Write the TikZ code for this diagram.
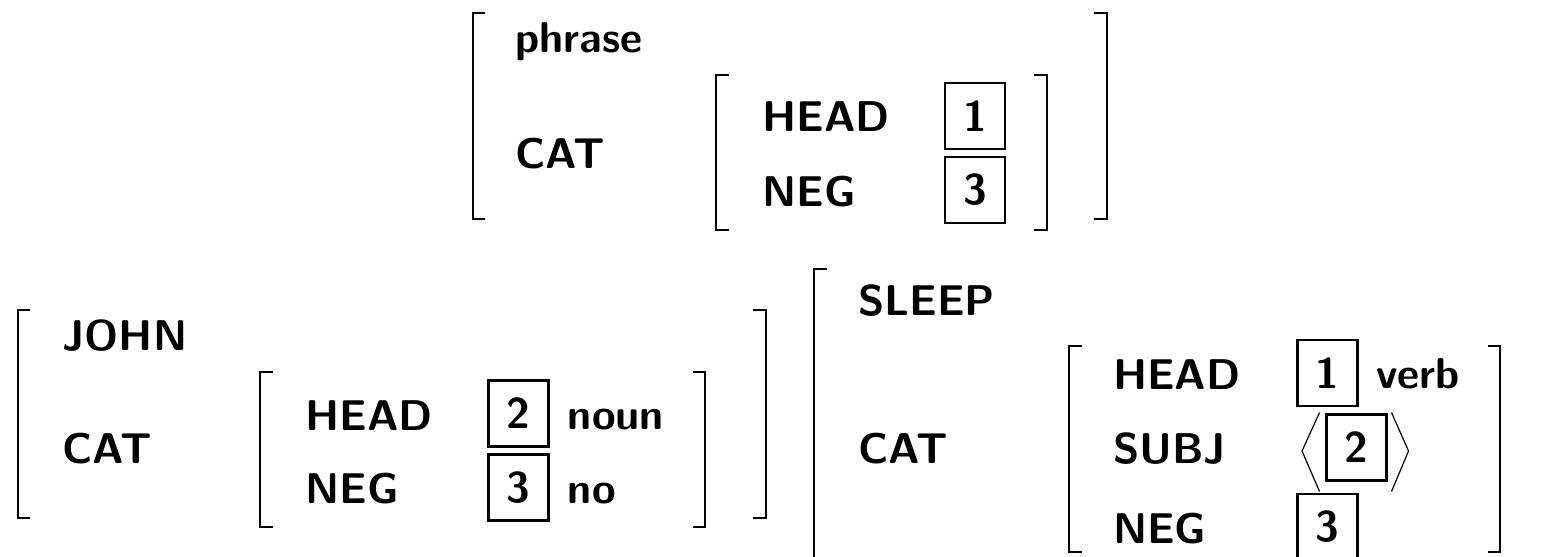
\documentclass[tikz,border=0pt]{standalone}
\usepackage{tikz}
\newcommand{\avmfont}{\sffamily\bfseries\fontsize{21.5}{26}\selectfont}
\tikzset{
  feat/.style={anchor=base west, inner sep=0pt, font=\avmfont},
  tagbox/.style={draw, line width=1.3pt, inner sep=0pt, minimum width=30pt, minimum height=33pt, font=\avmfont},
  brk/.style={line width=1pt},
  ang/.style={line width=0.6pt},
}
\begin{document}
\begin{tikzpicture}[x=0.5pt,y=-0.5pt]
\useasboundingbox (0,0) rectangle (1545,556);
\clip (0,0) rectangle (1545,556);

% ---------- mother: phrase ----------
\draw[brk] (485,13) -- (472.5,13) -- (472.5,219) -- (485,219);
\draw[brk] (1094,13) -- (1107,13) -- (1107,219) -- (1094,219);
\node[feat] (pType) at (515,53) {phrase};
\node[feat] (pCat) at (515,168) {CAT};
\draw[brk] (729,75) -- (716,75) -- (716,230) -- (729,230);
\draw[brk] (1034,75) -- (1046.5,75) -- (1046.5,230) -- (1034,230);
\node[feat] (pHead) at (762,132) {HEAD};
\node[feat] (pNeg) at (762,206) {NEG};
\node[tagbox] (pT1) at (975,116) {1};
\node[tagbox] (pT3) at (975,190) {3};

% ---------- daughter: JOHN ----------
\draw[brk] (30,310) -- (18,310) -- (18,518) -- (30,518);
\draw[brk] (753,310) -- (765.5,310) -- (765.5,518) -- (753,518);
\node[feat] (jType) at (62,350) {JOHN};
\node[feat] (jCat) at (62,463) {CAT};
\draw[brk] (272.5,372) -- (260,372) -- (260,527) -- (272.5,527);
\draw[brk] (692.5,372) -- (705,372) -- (705,527) -- (692.5,527);
\node[feat] (jHead) at (305,430) {HEAD};
\node[feat] (jNeg) at (305,503) {NEG};
\node[tagbox] (jT2) at (518.5,413.5) {2};
\node[tagbox] (jT3) at (518.5,487.5) {3};
\node[feat] (jNoun) at (567.5,429) {noun};
\node[feat] (jNo) at (567.5,503) {no};

% ---------- daughter: SLEEP ----------
\draw[brk] (827,269) -- (814,269) -- (814,620);
\node[feat] (sType) at (858,315) {SLEEP};
\node[feat] (sCat) at (858,463) {CAT};
\draw[brk] (1081.5,346) -- (1068.5,346) -- (1068.5,552) -- (1081.5,552);
\draw[brk] (1487.5,346) -- (1500,346) -- (1500,552) -- (1487.5,552);
\node[feat] (sHead) at (1112.7,389) {HEAD};
\node[feat] (sSubj) at (1112.7,463) {SUBJ};
\node[feat] (sNeg) at (1112.7,543) {NEG};
\node[tagbox] (sT1) at (1327.5,373) {1};
\node[feat] (sVerb) at (1376,388) {verb};
\node[tagbox] (sT2) at (1356.5,447.5) {2};
\node[tagbox] (sT3) at (1327.5,527) {3};
% list delimiters round the SUBJ value
\draw[ang] (1319.5,412.5) -- (1302,451) -- (1319.5,491.5);
\draw[ang] (1391.5,412.5) -- (1408.5,451) -- (1391.5,491.5);
\end{tikzpicture}
\end{document}
